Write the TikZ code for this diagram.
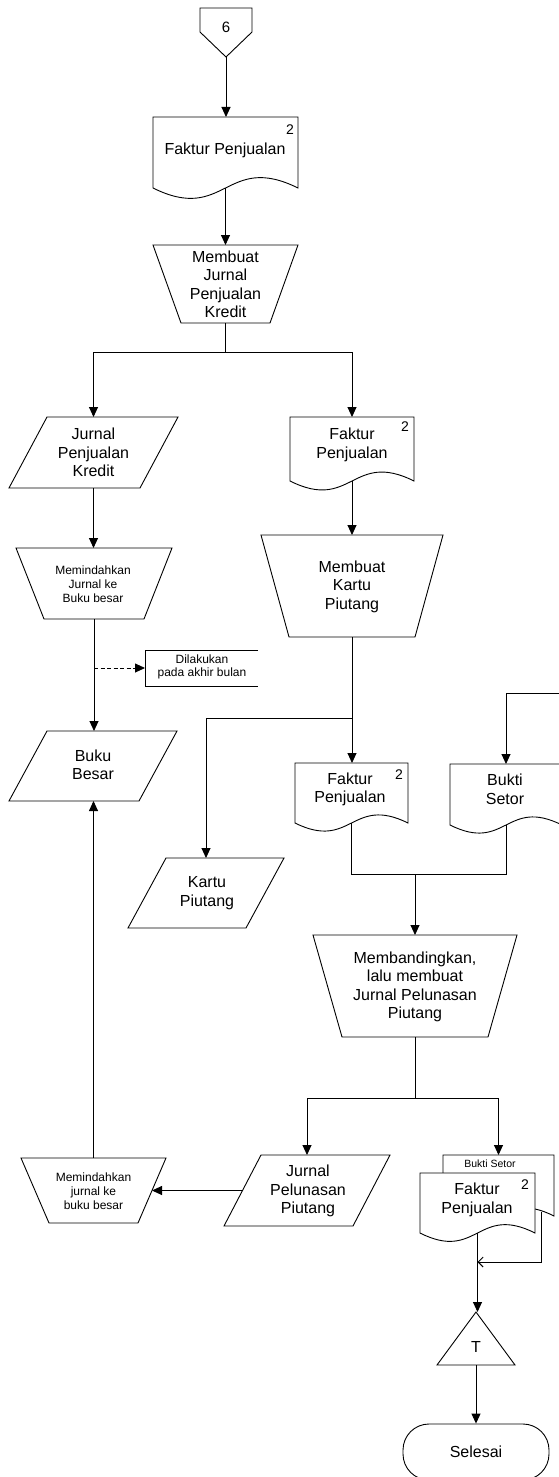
\documentclass[tikz,border=0pt]{standalone}
\usepackage{fontspec}
\setmainfont{Liberation Sans}
\usetikzlibrary{arrows.meta,calc}

% invisible box that carries the name and the anchors of a flowchart symbol
\newcommand\shapebox[5]{\node[anchorbox, minimum width=#4-#2, minimum height=#5-#3] (#1) at ({(#2+#4)/2},{(#3+#5)/2}) {};}
% document symbol: straight top and sides, wavy bottom
\newcommand\docoutline[3][]{\draw[outline,#1] (#2.south west) -- (#2.north west) -- (#2.north east) -- (#2.south east)
  .. controls ($(#2.south)+(0,-#3)$) and ($(#2.south)+(0,#3)$) .. (#2.south west) -- cycle;}
% manual operation: trapezium, wide side up
\newcommand\manualop[2]{\draw[outline] (#1.north west) -- (#1.north east) -- ($(#1.south east)+(-#2,0)$) -- ($(#1.south west)+(#2,0)$) -- cycle;}
% input/output: parallelogram leaning right
\newcommand\dataio[2]{\draw[outline] ($(#1.north west)+(#2,0)$) -- (#1.north east) -- ($(#1.south east)+(-#2,0)$) -- (#1.south west) -- cycle;}

\begin{document}
\begin{tikzpicture}[x=1pt, y=-1pt,
  anchorbox/.style={inner sep=0pt, outer sep=0pt, draw=none},
  outline/.style={draw=black, line width=0.9pt, line join=miter},
  plain/.style={draw=black, line width=0.9pt},
  flow/.style={plain, -{Triangle[length=10pt,width=9pt]}},
  txt/.style={font=\fontsize{16}{18.5}\selectfont, align=center, inner sep=0pt},
  smalltxt/.style={font=\fontsize{12}{14}\selectfont, align=center, inner sep=0pt},
  tinytxt/.style={font=\fontsize{10.5}{12}\selectfont, inner sep=0pt},
  copytxt/.style={font=\fontsize{14}{14}\selectfont, inner sep=0pt}]
\useasboundingbox (0,0) rectangle (559,1477);
\fill[white] (0,0) rectangle (559,1477);
\clip (0,0) rectangle (559,1477);

% off-page connector
\shapebox{op6}{200}{8}{252}{57}
\draw[outline] (op6.north west) -- (op6.north east) -- ($(op6.north east)+(0,24)$) -- (op6.south) -- ($(op6.north west)+(0,24)$) -- cycle;
\node[txt, font=\fontsize{15}{15}\selectfont] (op6-t) at (226,27) {6};

% sales invoice
\shapebox{fp1}{153}{117}{298}{188}
\docoutline{fp1}{36}
\node[txt] (fp1-t) at (225,150) {Faktur Penjualan};
\node[copytxt] (fp1-n) at (290,130) {2};

% credit sales journal entry
\shapebox{mj}{153}{245}{298}{323}
\manualop{mj}{28}
\node[txt] (mj-t) at (225.5,284.5) {Membuat\\Jurnal\\Penjualan\\Kredit};

% left branch
\shapebox{jpk}{9}{417}{178}{488}
\dataio{jpk}{38}
\node[txt] (jpk-t) at (93.5,452.5) {Jurnal\\Penjualan\\Kredit};

\shapebox{mjb}{16}{548}{172}{619}
\manualop{mjb}{28}
\node[smalltxt] (mjb-t) at (93,584) {Memindahkan\\Jurnal ke\\Buku besar};

\shapebox{note}{145}{650}{258}{686}
\draw[outline] (note.north east) -- (note.north west) -- (note.south west) -- (note.south east);
\node[smalltxt, font=\fontsize{12}{13.5}\selectfont] (note-t) at (202,667) {Dilakukan\\pada akhir bulan};

\shapebox{bb}{9}{731}{177}{801}
\dataio{bb}{38}
\node[txt] (bb-t) at (93,765) {Buku\\Besar};

% right branch
\shapebox{fp2}{290}{417}{414}{481}
\docoutline{fp2}{31}
\node[txt] (fp2-t) at (352,445) {Faktur\\Penjualan};
\node[copytxt] (fp2-n) at (405,427) {2};

\shapebox{mkp}{261}{535}{443}{637}
\manualop{mkp}{28}
\node[txt] (mkp-t) at (352,586.5) {Membuat\\Kartu\\Piutang};

\shapebox{kp}{128}{858}{284}{928}
\dataio{kp}{38}
\node[txt] (kp-t) at (207,893) {Kartu\\Piutang};

\shapebox{fp3}{295}{763}{408}{823}
\docoutline{fp3}{28}
\node[txt] (fp3-t) at (350,789.5) {Faktur\\Penjualan};
\node[copytxt] (fp3-n) at (399,775) {2};

\shapebox{bs}{450}{764}{562}{825}
\docoutline{bs}{28}
\node[txt] (bs-t) at (505,789.5) {Bukti\\Setor};

\shapebox{mbd}{313}{935}{517}{1037}
\manualop{mbd}{29}
\node[txt] (mbd-t) at (415,987) {Membandingkan,\\lalu membuat\\Jurnal Pelunasan\\Piutang};

\shapebox{jpp}{224}{1155}{390}{1226}
\dataio{jpp}{37}
\node[txt] (jpp-t) at (308,1191) {Jurnal\\Pelunasan\\Piutang};

\shapebox{mjb2}{21}{1158}{166}{1223}
\manualop{mjb2}{28}
\node[smalltxt] (mjb2-t) at (93.5,1191) {Memindahkan\\jurnal ke\\buku besar};

% stacked documents
\shapebox{bsb}{443}{1155}{554}{1216}
\docoutline{bsb}{28}
\node[tinytxt] (bsb-t) at (490,1164) {Bukti Setor};

\shapebox{fp4}{420}{1173}{535}{1233}
\docoutline[fill=white]{fp4}{29}
\node[txt] (fp4-t) at (477,1200) {Faktur\\Penjualan};
\node[copytxt] (fp4-n) at (525,1185) {2};

% file and end
\shapebox{tri}{437}{1312}{515}{1365}
\draw[outline] (tri.north) -- (tri.south east) -- (tri.south west) -- cycle;
\node[txt] (tri-t) at (476,1347) {T};

\node[outline, txt, rounded corners=26pt, minimum width=146pt, minimum height=56pt] (end) at (476,1452) {Selesai};

% connectors
\draw[flow] (op6.south) -- (op6.south |- fp1.north);
\draw[flow] (fp1.south) -- (fp1.south |- mj.north);
\path (mj.south) ++(0,29) coordinate (j1);
\draw[plain] (mj.south) -- (j1);
\draw[flow] (j1) -| (jpk.north);
\draw[flow] (j1) -| (fp2.north);
\draw[flow] (jpk.south) -- (jpk.south |- mjb.north);
\draw[flow] (mjb.south) -- (mjb.south |- bb.north);
\draw[flow, dash pattern=on 4pt off 2.5pt] (mjb.south |- note.west) -- (note.west);
\draw[flow] (fp2.south) -- (mkp.north);
\draw[flow] (mkp.south) -- (mkp.south |- fp3.north);
\path (mkp.south) ++(0,81) coordinate (j3);
\draw[flow] (j3) -| (kp.north);
\coordinate (in1) at (570,693);
\draw[flow] (in1) -| (bs.north);
\path (mbd.north) ++(0,-61) coordinate (m1);
\draw[plain] (fp3.south) |- (m1);
\draw[plain] (bs.south) |- (m1);
\draw[flow] (m1) -- (mbd.north);
\path (mbd.south) ++(0,61) coordinate (j2);
\draw[plain] (mbd.south) -- (j2);
\draw[flow] (j2) -| (jpp.north);
\draw[flow] (j2) -| (bsb.north);
\draw[flow] ($(jpp.west)+(18.5,0)$) -- ($(mjb2.east)+(-14,0)$);
\draw[flow] (mjb2.north) -- (mjb2.north |- bb.south);
\path (fp4.south) ++(0,29) coordinate (j4);
\draw[plain, -{Straight Barb[length=5pt,width=10pt]}] ($(bsb.south east)+(-13,-4)$) |- (j4);
\draw[flow] (fp4.south) -- (fp4.south |- tri.north);
\draw[flow] (tri.south) -- (end.north);
\end{tikzpicture}
\end{document}
